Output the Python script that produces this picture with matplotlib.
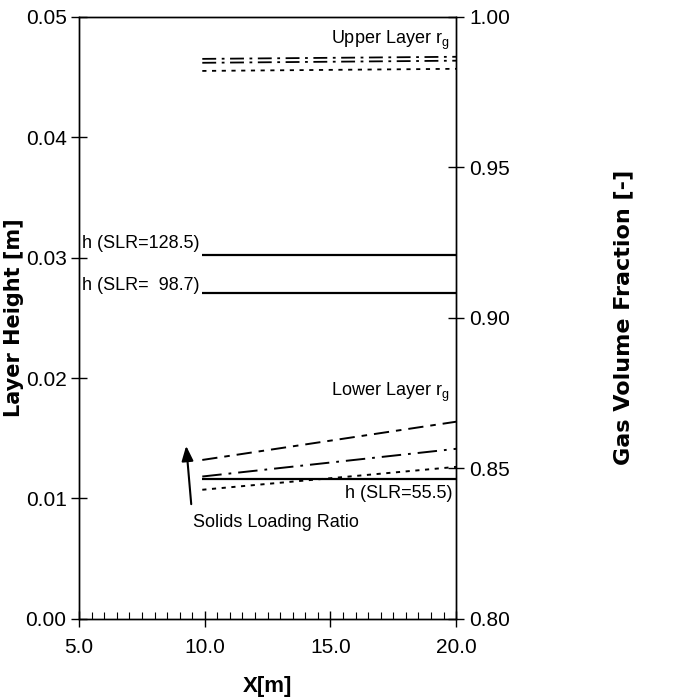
import matplotlib
matplotlib.use("Agg")
import matplotlib.pyplot as plt
from matplotlib.ticker import MultipleLocator, FormatStrFormatter

plt.rcParams['font.family'] = ['Liberation Sans', 'DejaVu Sans']
plt.rcParams['mathtext.fontset'] = 'custom'
plt.rcParams['mathtext.rm'] = 'Liberation Sans'
plt.rcParams['lines.scale_dashes'] = False

# ---- data ----
x_range = [9.9, 20.0]

# layer heights (left axis) [m]
h_slr128 = [0.0302, 0.0302]
h_slr98 = [0.0271, 0.0271]
h_slr55 = [0.0116, 0.0116]

# upper layer gas volume fraction (right axis)
upper_rg_a = [0.9860, 0.9867]
upper_rg_b = [0.9847, 0.9854]
upper_rg_c = [0.9820, 0.9827]

# lower layer gas volume fraction (right axis)
lower_rg_top = [0.8528, 0.8655]
lower_rg_mid = [0.8473, 0.8565]
lower_rg_dot = [0.8429, 0.8505]

left_ticks = [0.00, 0.01, 0.02, 0.03, 0.04, 0.05]
right_ticks = [0.80, 0.85, 0.90, 0.95, 1.00]

fig = plt.figure(figsize=(6.88, 6.97), dpi=100)
ax = fig.add_axes([0.115, 0.112, 0.548, 0.864])
ax2 = ax.twinx()

ax.set_xlim(5, 20)
ax.set_ylim(0, 0.05)
ax2.set_ylim(0.80, 1.00)

# solid layer-height lines
ax.plot(x_range, h_slr128, color='black', lw=1.6, solid_capstyle='butt')
ax.plot(x_range, h_slr98, color='black', lw=1.6, solid_capstyle='butt')
ax.plot(x_range, h_slr55, color='black', lw=1.6, solid_capstyle='butt')

dd = (0, (10, 4, 2, 4))
ax2.plot(x_range, upper_rg_a, color='black', lw=1.3, linestyle=dd)
ax2.plot(x_range, upper_rg_b, color='black', lw=1.3, linestyle=dd)
ax2.plot(x_range, upper_rg_c, color='black', lw=1.3, linestyle=(0, (3, 4)))

ax2.plot(x_range, lower_rg_top, color='black', lw=1.4, linestyle=(0, (11, 5, 4, 5)))
ax2.plot(x_range, lower_rg_mid, color='black', lw=1.4, linestyle=(0, (14, 5, 2, 5)))
ax2.plot(x_range, lower_rg_dot, color='black', lw=1.4, linestyle=(0, (3, 4)))

# annotations
fs_ann = 13
ax.text(19.75, 0.0480, r'Upper Layer r$_\mathrm{g}$', fontsize=fs_ann, ha='right', va='center')
ax.text(5.12, 0.0312, 'h (SLR=128.5)', fontsize=fs_ann, ha='left', va='center')
ax.text(5.12, 0.0277, 'h (SLR=  98.7)', fontsize=fs_ann, ha='left', va='center')
ax.text(19.75, 0.0188, r'Lower Layer r$_\mathrm{g}$', fontsize=fs_ann, ha='right', va='center')
ax.text(19.85, 0.0104, 'h (SLR=55.5)', fontsize=fs_ann, ha='right', va='center')
ax.text(9.55, 0.0080, 'Solids Loading Ratio', fontsize=fs_ann, ha='left', va='center')
ax.annotate('', xy=(9.25, 0.0146), xytext=(9.47, 0.0093),
            arrowprops=dict(arrowstyle='-|>,head_length=0.9,head_width=0.35',
                            color='black', lw=1.5))

# axes formatting
ax.xaxis.set_major_locator(MultipleLocator(5))
ax.xaxis.set_minor_locator(MultipleLocator(0.5))
ax.xaxis.set_major_formatter(FormatStrFormatter('%.1f'))
ax.set_yticks(left_ticks)
ax.yaxis.set_major_formatter(FormatStrFormatter('%.2f'))
ax2.set_yticks(right_ticks)
ax2.yaxis.set_major_formatter(FormatStrFormatter('%.2f'))

ax.tick_params(axis='x', which='major', direction='inout', length=12, width=1, labelsize=15, pad=8)
ax.tick_params(axis='x', which='minor', direction='in', length=5, width=0.8)
ax.tick_params(axis='y', which='major', direction='inout', length=12, width=1, labelsize=15, pad=3)
ax2.tick_params(axis='y', which='major', direction='inout', length=12, width=1, labelsize=15)
ax.tick_params(top=False)

for a in (ax, ax2):
    for s in a.spines.values():
        s.set_linewidth(1.0)

ax.set_xlabel('X[m]', fontsize=16, fontweight='bold')
ax.xaxis.set_label_coords(0.5, -0.095)
ax.set_ylabel('Layer Height [m]', fontsize=15, fontweight='bold', family=['DejaVu Sans'])
ax.yaxis.set_label_coords(-0.147, 0.5)
ax2.set_ylabel('Gas Volume Fraction [-]', fontsize=16, fontweight='bold', family=['DejaVu Sans'])
ax2.yaxis.set_label_coords(1.416, 0.5)

fig.savefig('out.png', dpi=100)
